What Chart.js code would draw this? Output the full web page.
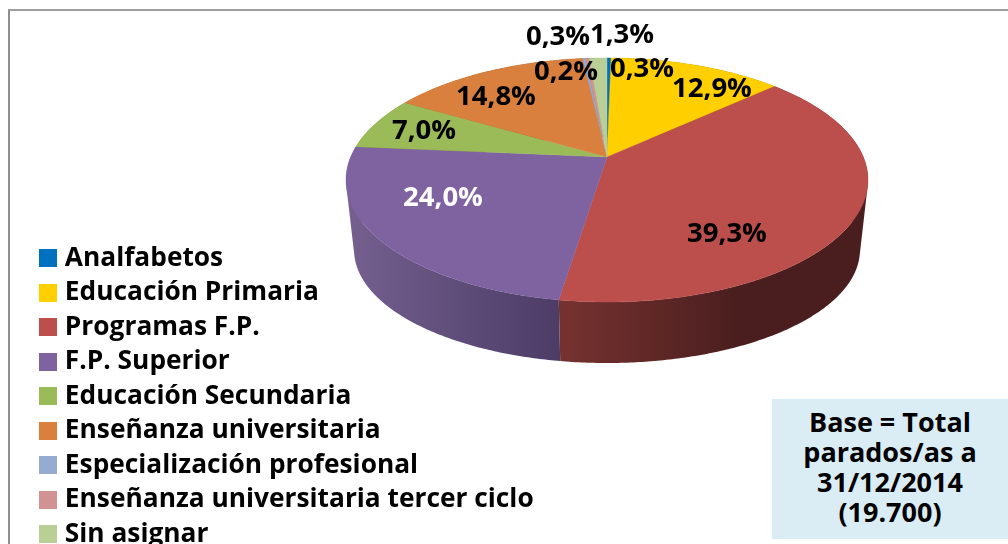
<!DOCTYPE html>
<html><head><meta charset="utf-8">
<style>
html,body{margin:0;padding:0;background:#fff;width:1008px;height:544px;overflow:hidden}
#wrap{position:absolute;left:0;top:0;width:1008px;height:544px}
#frame{position:absolute;left:8px;top:9px;right:-5px;bottom:-5px;border-left:2px solid #8f8f8f;border-top:2px solid #a0a0a0}
#base{position:absolute;left:772px;top:399px;width:236px;height:140px;background:#DAEDF4;color:#000;
 font:bold 27px/30px "Open Sans",sans-serif;text-align:center;padding-top:8px;box-sizing:border-box}
canvas{position:absolute;left:0;top:0}
</style>
<script src="https://cdn.jsdelivr.net/npm/chart.js@4/dist/chart.umd.min.js"></script>
</head><body>
<div id="wrap">
<div id="frame"></div>
<canvas id="c" width="1008" height="544"></canvas>
<div id="base">Base = Total<br>parados/as a<br>31/12/2014<br>(19.700)</div>
</div>
<script>
const categories = ['Analfabetos','Educación Primaria','Programas F.P.','F.P. Superior','Educación Secundaria','Enseñanza universitaria','Especialización profesional','Enseñanza universitaria tercer ciclo','Sin asignar'];
const shares = [0.3,12.9,39.3,24.0,7.0,14.8,0.2,0.3,1.3];
const shareLabels = ['0,3%','12,9%','39,3%','24,0%','7,0%','14,8%','0,2%','0,3%','1,3%'];
const colors = ['#0070C0','#FFCF00','#BC4F4C','#7F62A0','#9BBB59','#D9803E','#95ABD0','#D19392','#BACF96'];
const sideFrom = ['#00548f','#bf9b00','#763230','#75608f','#74893f','#a2602e','#70809c','#9c6e6d','#8b9b70'];
const sideTo = ['#003a63','#7f6700','#4a1e1e','#4c3c66','#4e5c2c','#6c401f','#4a5568','#684948','#5d6749'];
const labelSpots = [[642,69],[712,89],[727,234],[443,198],[424,131],[496,97],[566,72],[558,37],[622,35]];
const labelInk = ['#000','#000','#000','#fff','#000','#000','#000','#000','#000'];

// Perspective disc: same view for the rim and for the lower edge
const tilt = 0.1885;
const topFace = {x:607, y:157, a:256.3, b:117.7};
const lowFace = {x:607, y:228.7, a:248.4, b:109};
function project(f, t){
  const u = Math.cos(t), v = Math.sin(t), w = 1 - tilt*v;
  return [f.x + f.a*u/w, f.y + f.b*v/w];
}
function trace(ctx, f, s, e){
  const n = Math.max(2, Math.ceil(Math.abs(e-s)/0.01));
  for(let i=0;i<=n;i++){ const p = project(f, s+(e-s)*i/n); ctx.lineTo(p[0],p[1]); }
}
function sweep(ctx, s, e){
  const n = Math.max(2, Math.ceil((e-s)/0.01));
  for(let i=0;i<n;i++){
    const t0 = s+(e-s)*i/n, t1 = s+(e-s)*(i+1)/n;
    let q = [project(topFace,t0), project(topFace,t1), project(lowFace,t1), project(lowFace,t0)];
    let area = 0;
    q.forEach((p,j)=>{ const r = q[(j+1)%4]; area += p[0]*r[1]-r[0]*p[1]; });
    if(area < 0) q.reverse();
    ctx.moveTo(q[0][0],q[0][1]);
    ctx.lineTo(q[1][0],q[1][1]); ctx.lineTo(q[2][0],q[2][1]); ctx.lineTo(q[3][0],q[3][1]);
    ctx.closePath();
  }
}
const disc3d = {
  id:'disc3d',
  afterLayout(chart){
    const l = chart.legend;
    l.left = 35.5; l.top = 237; l.right = 700; l.bottom = 600; l.width = 664.5; l.height = 363;
  },
  beforeDatasetDraw(chart, args){
    const ctx = chart.ctx, arcs = args.meta.data;
    ctx.save();
    arcs.forEach((arc,i)=>{
      const g = i===2 ? ctx.createLinearGradient(558,0,740,0) : ctx.createLinearGradient(347,0,558,0);
      g.addColorStop(0,sideFrom[i]); g.addColorStop(1,sideTo[i]);
      ctx.fillStyle = g;
      ctx.beginPath();
      sweep(ctx, arc.startAngle, arc.endAngle);
      ctx.fill('nonzero');
    });
    arcs.forEach((arc,i)=>{
      ctx.beginPath();
      ctx.moveTo(topFace.x, topFace.y);
      trace(ctx, topFace, arc.startAngle, arc.endAngle);
      ctx.closePath();
      ctx.fillStyle = colors[i];
      ctx.strokeStyle = colors[i];
      ctx.lineWidth = 0.4;
      ctx.fill();
      ctx.stroke();
    });
    ctx.restore();
    return false;
  },
  afterDatasetsDraw(chart){
    const ctx = chart.ctx;
    ctx.save();
    ctx.font = 'bold 27.5px "Open Sans", sans-serif';
    ctx.textAlign = 'center';
    ctx.textBaseline = 'middle';
    shareLabels.forEach((t,i)=>{
      ctx.fillStyle = labelInk[i];
      ctx.fillText(t, labelSpots[i][0], labelSpots[i][1]);
    });
    ctx.restore();
  }
};
function swatch(color){
  const c = document.createElement('canvas');
  c.width = 18; c.height = 18;
  const x = c.getContext('2d');
  x.fillStyle = color; x.fillRect(0,0,18,18);
  return c;
}
new Chart(document.getElementById('c'),{
  type:'pie',
  data:{labels:categories,datasets:[{data:shares,backgroundColor:colors,borderWidth:0}]},
  plugins:[disc3d],
  options:{
    responsive:false,animation:false,
    plugins:{
      tooltip:{enabled:false},
      legend:{
        position:'left',align:'start',
        labels:{
          color:'#000',
          font:{family:'"Open Sans", sans-serif',weight:'bold',size:26.3},
          padding:8.2,
          usePointStyle:true,
          pointStyleWidth:8,
          generateLabels(chart){
            return categories.map((t,i)=>({text:t,fillStyle:colors[i],strokeStyle:colors[i],lineWidth:0,pointStyle:swatch(colors[i]),hidden:false,index:i}));
          }
        }
      }
    }
  }
});
</script>
</body></html>
